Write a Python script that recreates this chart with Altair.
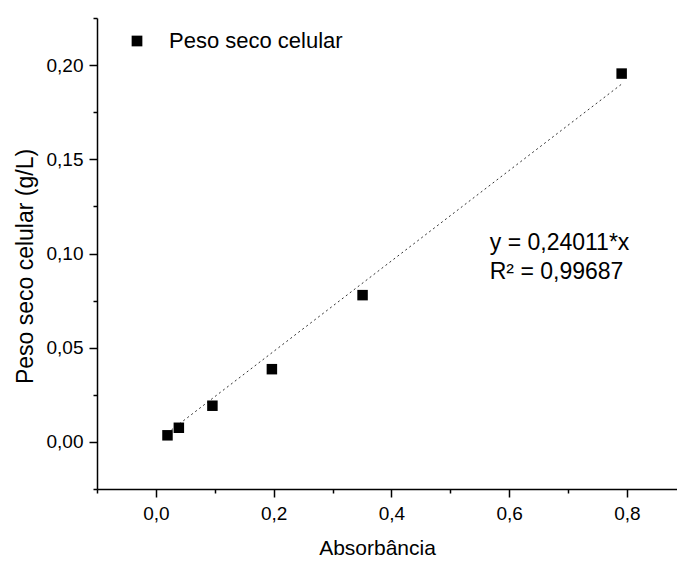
import altair as alt
import pandas as pd

# Calibration: absorbance vs. dry cell weight
absorbancia = [0.0197, 0.039, 0.096, 0.197, 0.351, 0.791]
peso_seco = [0.0035, 0.0075, 0.0192, 0.0386, 0.0779, 0.1955]
serie = "Peso seco celular"

# Linear fit through the origin
slope = 0.24011
r2 = 0.99687
eq_lines = ["y = 0,24011*x", "R² = 0,99687"]
eq_x = [0.567, 0.567]
eq_y = [0.1054, 0.0900]

FONT = "Liberation Sans"

pts = pd.DataFrame({"x": absorbancia, "y": peso_seco, "serie": [serie] * len(absorbancia)})
fit = pd.DataFrame({"x": [min(absorbancia), max(absorbancia)]})
fit["y"] = fit["x"] * slope
eq = pd.DataFrame({"x": eq_x, "y": eq_y, "t": eq_lines})

x_scale = alt.Scale(domain=[-0.1, 0.885], nice=False, zero=False)
y_scale = alt.Scale(domain=[-0.025, 0.225], nice=False, zero=False)

x_ticks = [round(-0.1 + 0.1 * i, 1) for i in range(10)]
y_ticks = [round(-0.025 + 0.025 * i, 3) for i in range(11)]

x_axis = alt.Axis(
    values=x_ticks,
    labelExpr="abs(datum.value/0.2 - round(datum.value/0.2)) > 0.01 ? '' : replace(format(datum.value, '.1f'), '.', ',')",
    tickSize={"condition": {"test": "abs(datum.value/0.2 - round(datum.value/0.2)) > 0.01", "value": 4}, "value": 8},
    grid=False,
    domainColor="black",
    tickColor="black",
    domainWidth=1.5,
    tickWidth=1.5,
    labelFont=FONT,
    labelFontSize=19,
    labelColor="black",
    labelPadding=7,
    title="Absorbância",
    titleFont=FONT,
    titleFontSize=21,
    titleFontWeight="normal",
    titleColor="black",
    titlePadding=14,
    titleX=280,
    labelFlush=False,
    labelOverlap=False,
)

y_axis = alt.Axis(
    values=y_ticks,
    labelExpr="abs(datum.value/0.05 - round(datum.value/0.05)) > 0.01 ? '' : replace(format(datum.value, '.2f'), '.', ',')",
    tickSize={"condition": {"test": "abs(datum.value/0.05 - round(datum.value/0.05)) > 0.01", "value": 4}, "value": 8},
    grid=False,
    domainColor="black",
    tickColor="black",
    domainWidth=1.5,
    tickWidth=1.5,
    labelFont=FONT,
    labelFontSize=19,
    labelColor="black",
    labelPadding=6,
    title="Peso seco celular (g/L)",
    titleFont=FONT,
    titleFontSize=23,
    titleFontWeight="normal",
    titleColor="black",
    titlePadding=9,
    titleY=248,
    labelFlush=False,
    labelOverlap=False,
)

line = alt.Chart(fit).mark_line(color="#333333", strokeWidth=1, strokeDash=[2, 3]).encode(
    x=alt.X("x:Q", scale=x_scale, axis=x_axis),
    y=alt.Y("y:Q", scale=y_scale, axis=y_axis),
)

points = alt.Chart(pts).mark_point(shape="square", filled=True, size=110, opacity=1).encode(
    x=alt.X("x:Q", scale=x_scale),
    y=alt.Y("y:Q", scale=y_scale),
    color=alt.Color(
        "serie:N",
        scale=alt.Scale(range=["black"]),
        legend=alt.Legend(
            title=None,
            orient="none",
            legendX=29,
            legendY=12,
            symbolType="square",
            symbolSize=115,
            symbolFillColor="black",
            symbolStrokeWidth=0,
            labelFont=FONT,
            labelFontSize=22,
            labelColor="black",
            labelOffset=21,
            labelLimit=400,
        ),
    ),
)

text = alt.Chart(eq).mark_text(align="left", baseline="middle", font=FONT, fontSize=23, color="black").encode(
    x=alt.X("x:Q", scale=x_scale),
    y=alt.Y("y:Q", scale=y_scale),
    text="t:N",
)

chart = (
    alt.layer(line, points, text)
    .properties(
        width=580,
        height=471,
        autosize=alt.AutoSizeParams(type="none"),
        padding={"left": 97, "top": 18, "right": 0, "bottom": 72},
        background="white",
    )
    .configure_view(stroke=None)
)

chart.save("out.html", embed_options={"renderer": "svg", "actions": False})
